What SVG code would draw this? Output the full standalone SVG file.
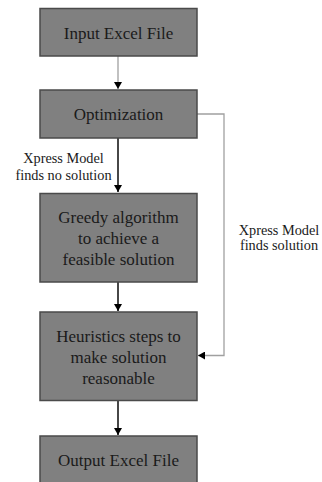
<svg xmlns="http://www.w3.org/2000/svg" width="322" height="482" viewBox="0 0 322 482">
<defs>
<style>
.box{fill:#808080;stroke:#4a4a4a;stroke-width:1.5}
.t{font-family:'Liberation Serif','Times New Roman','DejaVu Serif',serif;font-size:17px;fill:#1a1a1a;text-anchor:middle}
.lb{font-family:'Liberation Serif','Times New Roman','DejaVu Serif',serif;font-size:14.3px;fill:#1a1a1a;text-anchor:middle}
.cg{fill:none;stroke:#a0a0a0;stroke-width:1.3}
.cd{fill:none;stroke:#333;stroke-width:1.8}
</style>
<marker id="ah" markerWidth="8" markerHeight="8" refX="7" refY="4" orient="auto" markerUnits="userSpaceOnUse">
<path d="M0,0 L7,4 L0,8 Z" fill="#000"/>
</marker>
</defs>
<rect width="322" height="482" fill="#fff"/>
<g id="connectors">
<line class="cg" x1="118" y1="56" x2="118" y2="89" marker-end="url(#ah)"/>
<line class="cd" x1="118" y1="138" x2="118" y2="192" marker-end="url(#ah)"/>
<line class="cd" x1="118" y1="282" x2="118" y2="311" marker-end="url(#ah)"/>
<line class="cd" x1="118" y1="401" x2="118" y2="435" marker-end="url(#ah)"/>
<polyline class="cg" points="197,114 224,114 224,355.5 198,355.5" marker-end="url(#ah)"/>
<text class="lb" x="63.5" y="163" font-family="Liberation Serif, serif">Xpress Model</text>
<text class="lb" x="63.5" y="180" font-family="Liberation Serif, serif">finds no solution</text>
<text class="lb" x="279" y="235" font-family="Liberation Serif, serif">Xpress Model</text>
<text class="lb" x="279" y="250" font-family="Liberation Serif, serif">finds solution</text>
</g>
<g id="input">
<rect class="box" x="40" y="8.5" width="157" height="47.5"/>
<text class="t" x="118.5" y="38.5">Input Excel File</text>
</g>
<g id="optimization">
<rect class="box" x="40" y="90" width="157" height="48"/>
<text class="t" x="118.5" y="120">Optimization</text>
</g>
<g id="greedy">
<rect class="box" x="40" y="193.5" width="157" height="88.5"/>
<text class="t" x="118.5" y="222.5">Greedy algorithm</text>
<text class="t" x="118.5" y="244">to achieve a</text>
<text class="t" x="118.5" y="265">feasible solution</text>
</g>
<g id="heuristics">
<rect class="box" x="40" y="312" width="157" height="88.5"/>
<text class="t" x="118.5" y="341.5">Heuristics steps to</text>
<text class="t" x="118.5" y="362.5">make solution</text>
<text class="t" x="118.5" y="383.5">reasonable</text>
</g>
<g id="output">
<rect class="box" x="40" y="436" width="157" height="50"/>
<text class="t" x="118.5" y="466">Output Excel File</text>
</g>
</svg>
